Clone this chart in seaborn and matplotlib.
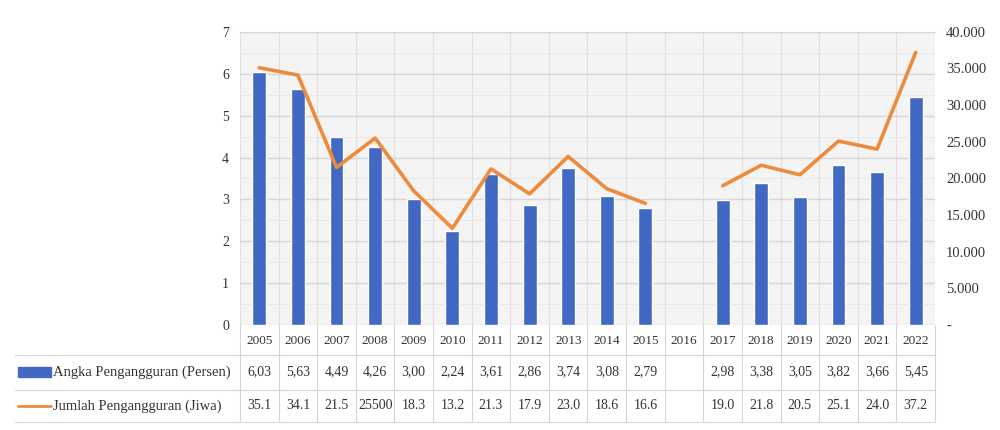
import numpy as np
import pandas as pd
import matplotlib
matplotlib.use("Agg")
import matplotlib.pyplot as plt
import matplotlib.transforms as mtransforms
from matplotlib.lines import Line2D
from matplotlib.patches import Rectangle
import seaborn as sns

# ---------------------------------------------------------------
# data
# ---------------------------------------------------------------
years = ["2005", "2006", "2007", "2008", "2009", "2010", "2011", "2012", "2013",
         "2014", "2015", "2016", "2017", "2018", "2019", "2020", "2021", "2022"]
angka = [6.03, 5.63, 4.49, 4.26, 3.00, 2.24, 3.61, 2.86, 3.74,
         3.08, 2.79, np.nan, 2.98, 3.38, 3.05, 3.82, 3.66, 5.45]
jumlah = [35100, 34100, 21500, 25500, 18300, 13200, 21300, 17900, 23000,
          18600, 16600, np.nan, 19000, 21800, 20500, 25100, 24000, 37200]
# table row as printed in the source (2008 is printed in full)
jumlah_label = ["35.1", "34.1", "21.5", "25500", "18.3", "13.2", "21.3", "17.9", "23.0",
                "18.6", "16.6", "", "19.0", "21.8", "20.5", "25.1", "24.0", "37.2"]

label_angka = "Angka Pengangguran (Persen)"
label_jumlah = "Jumlah Pengangguran (Jiwa)"

BLUE = "#4169c4"
ORANGE = "#ee8a3c"
GRID = "#d6d6d6"

sns.set_style("white")
plt.rcParams["font.family"] = ["Liberation Serif", "DejaVu Serif"]

df = pd.DataFrame({"tahun": years, "angka": angka, "jumlah": jumlah})
df["pos"] = np.arange(len(years))
df["seg"] = np.where(df["pos"] < 11, 0, 1)

fig = plt.figure(figsize=(10, 4.3), dpi=100)
ax = fig.add_axes([0.24, 0.244, 0.695, 0.682])
ax.set_facecolor("#f4f4f4")

sns.barplot(data=df.dropna(subset=["angka"]), x="tahun", y="angka", order=years,
            color=BLUE, width=0.36, saturation=1, ax=ax, zorder=3)

ax2 = ax.twinx()
sns.lineplot(data=df.dropna(subset=["jumlah"]), x="pos", y="jumlah", units="seg",
             estimator=None, color=ORANGE, linewidth=2.6, ax=ax2, zorder=4)

ax.set_xlim(-0.5, len(years) - 0.5)
ax2.set_xlim(-0.5, len(years) - 0.5)
ax.set_ylim(0, 7)
ax2.set_ylim(0, 40000)
ax.set_yticks(range(0, 8))
ax2.set_yticks(range(0, 40001, 5000))
ax2.set_yticklabels(["-" if v == 0 else f"{v:,.0f}".replace(",", ".")
                     for v in range(0, 40001, 5000)])

# grid
ax.set_yticks(np.arange(0, 7, 0.5), minor=True)
ax.grid(axis="y", which="major", color=GRID, linewidth=1.0, zorder=0)
ax.grid(axis="y", which="minor", color="#e6e6e6", linewidth=0.6, zorder=0)
for b in np.arange(-0.5, len(years), 1.0):
    ax.axvline(b, color="#e0e0e0", linewidth=0.8, zorder=0)
ax.set_axisbelow(True)

ax.set_xlabel("")
ax.set_ylabel("")
ax2.set_ylabel("")
ax.set_xticks([])
ax2.set_xlabel("")
ax.tick_params(axis="y", which="both", length=0, labelsize=10, colors="#333333", pad=8)
ax2.tick_params(axis="y", which="both", length=0, labelsize=10.5, colors="#333333", pad=8)
for a in (ax, ax2):
    for s in a.spines.values():
        s.set_visible(False)
ax2.spines["top"].set_visible(True)
ax2.spines["top"].set_color(GRID)

# ---------------------------------------------------------------
# data table under the chart
# ---------------------------------------------------------------
trans = mtransforms.blended_transform_factory(ax.transData, fig.transFigure)
y_year, y_r1, y_r2 = 0.207, 0.135, 0.056
y_lines = [0.174, 0.093, 0.019]
fs = 10

for i, yr in enumerate(years):
    fig.text(i, y_year, yr, transform=trans, ha="center", va="center",
             fontsize=9.5, color="#333333")
    if not np.isnan(angka[i]):
        fig.text(i, y_r1, f"{angka[i]:.2f}".replace(".", ","), transform=trans,
                 ha="center", va="center", fontsize=fs, color="#333333")
    fig.text(i, y_r2, jumlah_label[i], transform=trans, ha="center", va="center",
             fontsize=fs, color="#333333")

for b in np.arange(-0.5, len(years), 1.0):
    fig.add_artist(Line2D([b, b], [0.019, 0.244], transform=trans,
                          color=GRID, linewidth=0.8))
for yl in y_lines:
    fig.add_artist(Line2D([0.015, 0.935], [yl, yl], transform=fig.transFigure,
                          color=GRID, linewidth=0.8))

# legend keys in the table
fig.add_artist(Rectangle((0.018, y_r1 - 0.012), 0.033, 0.024, transform=fig.transFigure,
                         color=BLUE))
fig.add_artist(Line2D([0.018, 0.051], [y_r2, y_r2], transform=fig.transFigure,
                      color=ORANGE, linewidth=2.0))
fig.text(0.053, y_r1, label_angka, ha="left", va="center", fontsize=10.5, color="#333333")
fig.text(0.053, y_r2, label_jumlah, ha="left", va="center", fontsize=10.5, color="#333333")

fig.savefig("out.png", dpi=100, facecolor="white")
